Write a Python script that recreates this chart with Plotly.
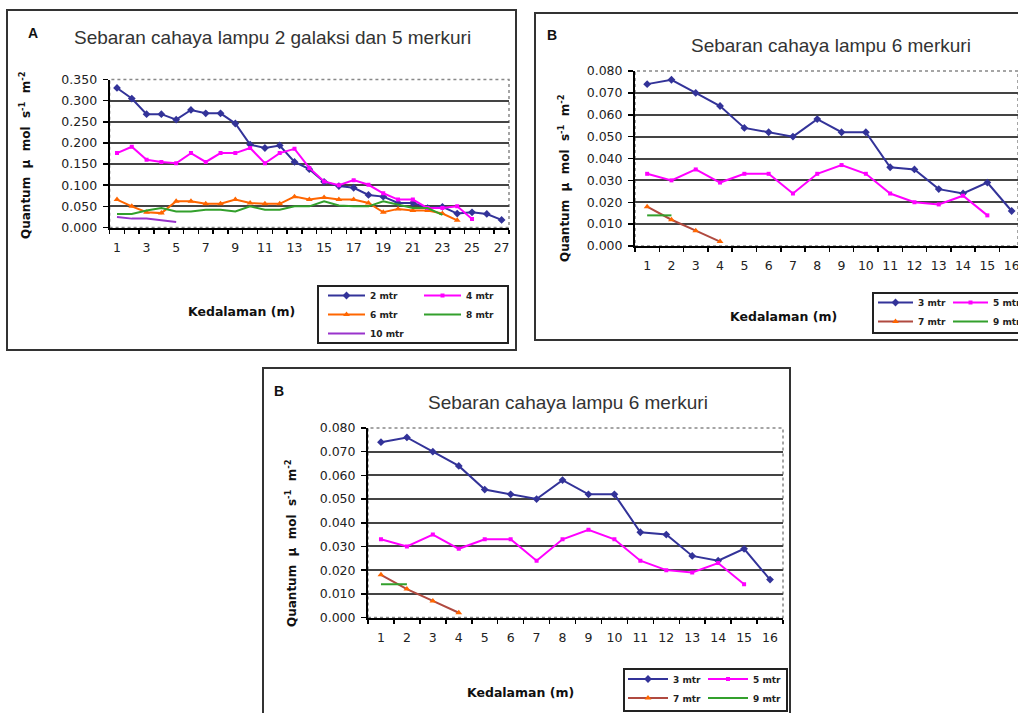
import plotly.graph_objects as go

# ---------------- data ----------------
depth_A = [1, 2, 3, 4, 5, 6, 7, 8, 9, 10, 11, 12, 13, 14, 15, 16, 17, 18, 19, 20,
           21, 22, 23, 24, 25, 26, 27]
a_2m = [0.330, 0.305, 0.268, 0.268, 0.255, 0.278, 0.270, 0.270, 0.246, 0.196, 0.188,
        0.194, 0.155, 0.138, 0.108, 0.098, 0.094, 0.077, 0.073, 0.058, 0.058, 0.046,
        0.049, 0.033, 0.036, 0.032, 0.018]
a_4m = [0.176, 0.191, 0.160, 0.155, 0.152, 0.176, 0.155, 0.176, 0.176, 0.188, 0.152,
        0.176, 0.186, 0.141, 0.109, 0.100, 0.112, 0.101, 0.081, 0.066, 0.066, 0.046,
        0.046, 0.050, 0.020]
a_6m = [0.066, 0.050, 0.036, 0.034, 0.062, 0.062, 0.056, 0.056, 0.066, 0.058, 0.056,
        0.056, 0.073, 0.066, 0.071, 0.066, 0.066, 0.058, 0.036, 0.044, 0.040, 0.040,
        0.033, 0.017]
a_8m = [0.032, 0.032, 0.040, 0.046, 0.038, 0.038, 0.042, 0.042, 0.038, 0.050, 0.042,
        0.042, 0.050, 0.050, 0.062, 0.052, 0.050, 0.050, 0.062, 0.054, 0.046, 0.046,
        0.030]
a_10m = [0.025, 0.021, 0.021, 0.017, 0.013]
a_ticks = [1, 3, 5, 7, 9, 11, 13, 15, 17, 19, 21, 23, 25, 27]
a_yticks = [0.0, 0.05, 0.10, 0.15, 0.20, 0.25, 0.30, 0.35]

depth_B = [1, 2, 3, 4, 5, 6, 7, 8, 9, 10, 11, 12, 13, 14, 15, 16]
b_3m = [0.074, 0.076, 0.070, 0.064, 0.054, 0.052, 0.050, 0.058, 0.052, 0.052, 0.036,
        0.035, 0.026, 0.024, 0.029, 0.016]
b_5m = [0.033, 0.030, 0.035, 0.029, 0.033, 0.033, 0.024, 0.033, 0.037, 0.033, 0.024,
        0.020, 0.019, 0.023, 0.014]
b_7m = [0.018, 0.012, 0.007, 0.002]
b_9m = [0.014, 0.014]
b_yticks = [0.0, 0.01, 0.02, 0.03, 0.04, 0.05, 0.06, 0.07, 0.08]

title_A = "Sebaran cahaya lampu 2 galaksi dan 5 merkuri"
title_B = "Sebaran cahaya lampu 6 merkuri"
ytitle = "Quantum\u00a0\u00a0µ\u00a0\u00a0mol\u00a0\u00a0s<sup>-1</sup>\u00a0\u00a0m<sup>-2</sup>"
xtitle = "Kedalaman (m)"

# ---------------- layout helpers ----------------
W, H = 1018, 713
def px(x):
    return x / W
def py(y):
    return 1 - y / H

C_BLUE = "#333399"
C_PINK = "#FF00FF"
C_ORANGE = "#FF6600"
C_GREEN = "#33A02C"
C_PURPLE = "#9933CC"
C_BROWN = "#B04A40"

fig = go.Figure()

def add(x, y, name, color, xa, ya, leg, symbol=None, msize=5, mcolor=None):
    mode = "lines+markers" if symbol else "lines"
    fig.add_trace(go.Scatter(
        x=x[:len(y)], y=y, name=name, mode=mode, xaxis=xa, yaxis=ya, legend=leg,
        line=dict(color=color, width=2),
        marker=dict(symbol=symbol or "circle", size=msize, color=mcolor or color),
        hoverinfo="skip"))

# Panel A
add(depth_A, a_2m, "2 mtr", C_BLUE, "x", "y", "legend", "diamond", 6)
add(depth_A, a_6m, "6 mtr", C_ORANGE, "x", "y", "legend", "triangle-up", 6)
add(depth_A, a_10m, "10 mtr", C_PURPLE, "x", "y", "legend")
add(depth_A, a_4m, "4 mtr", C_PINK, "x", "y", "legend2", "square", 4)
add(depth_A, a_8m, "8 mtr", C_GREEN, "x", "y", "legend2")
# Panel B top-right
add(depth_B, b_3m, "3 mtr", C_BLUE, "x2", "y2", "legend3", "diamond", 6)
add(depth_B, b_7m, "7 mtr", C_BROWN, "x2", "y2", "legend3", "triangle-up", 6, C_ORANGE)
add(depth_B, b_5m, "5 mtr", C_PINK, "x2", "y2", "legend4", "square", 4)
add(depth_B, b_9m, "9 mtr", C_GREEN, "x2", "y2", "legend4")
# Panel B bottom
add(depth_B, b_3m, "3 mtr", C_BLUE, "x3", "y3", "legend5", "diamond", 6)
add(depth_B, b_7m, "7 mtr", C_BROWN, "x3", "y3", "legend5", "triangle-up", 6, C_ORANGE)
add(depth_B, b_5m, "5 mtr", C_PINK, "x3", "y3", "legend6", "square", 4)
add(depth_B, b_9m, "9 mtr", C_GREEN, "x3", "y3", "legend6")

tickfont = dict(family="DejaVu Sans", size=12.5, color="#222222")

def xaxis(domain, rng, ticks, anchor):
    return dict(domain=domain, range=rng, anchor=anchor, tickmode="array",
                tickvals=ticks, ticktext=[str(t) for t in ticks],
                ticks="outside", ticklen=5, tickcolor="rgba(0,0,0,0)",
                minor=dict(ticks="outside", ticklen=4, tickwidth=1.5, tickcolor="black",
                           tick0=0.5, dtick=1, showgrid=False),
                showgrid=False, zeroline=False, showline=True, linecolor="black",
                linewidth=2, tickfont=tickfont, ticklabelstandoff=2,
                ticklabeloverflow="allow", fixedrange=True)

def yaxis(domain, rng, ticks, anchor):
    return dict(domain=domain, range=rng, anchor=anchor, tickmode="array",
                tickvals=ticks, tickformat=".3f", ticks="outside", ticklen=5,
                tickwidth=1.5, tickcolor="black", showgrid=True, gridcolor="#444444",
                gridwidth=2, zeroline=False, showline=True, linecolor="black",
                linewidth=2, tickfont=tickfont, ticklabelstandoff=3, fixedrange=True)

legfont = dict(family="DejaVu Sans", size=9, color="#222222", weight="bold")

def legend(x, ytop, iw):
    return dict(x=px(x), y=py(ytop), xanchor="left", yanchor="top", orientation="v",
                bgcolor="rgba(0,0,0,0)", borderwidth=0, font=legfont, itemwidth=iw,
                tracegroupgap=0, itemclick=False, itemdoubleclick=False)

# plot area edges (pixels)
A_l, A_r, A_t, A_b = 109.6, 509, 79.5, 227.5
T_l, T_t, T_b = 635, 71, 246
B_l, B_r, B_t, B_b = 368, 783, 428, 617.5

fig.update_layout(
    width=W, height=H, margin=dict(l=0, r=0, t=0, b=0, autoexpand=False),
    paper_bgcolor="white", plot_bgcolor="white", showlegend=True,
    xaxis=xaxis([px(A_l), px(A_r)], [0.5, 27.5], a_ticks, "y"),
    yaxis=yaxis([py(A_b), py(A_t)], [0, 0.35], a_yticks, "x"),
    xaxis2=xaxis([px(T_l), 1.0], [0.5, 0.5 + (1018 - T_l) / 24.3], depth_B, "y2"),
    yaxis2=yaxis([py(T_b), py(T_t)], [0, 0.08], b_yticks, "x2"),
    xaxis3=xaxis([px(B_l), px(B_r)], [0.5, 16.5], depth_B, "y3"),
    yaxis3=yaxis([py(B_b), py(B_t)], [0, 0.08], b_yticks, "x3"),
    legend=legend(323, 281, 37),
    legend2=legend(419, 281, 37),
    legend3=legend(873, 288, 35),
    legend4=legend(948, 288, 35),
    legend5=legend(623, 664.5, 40),
    legend6=legend(703, 664.5, 40),
)

shapes = []
# panel frames
for (x0, y0, x1, y1) in [(7, 10, 516, 350), (535, 13, 1030, 340), (263, 368, 790, 725)]:
    shapes.append(dict(type="rect", xref="paper", yref="paper", x0=px(x0), x1=px(x1),
                       y0=py(y1), y1=py(y0), line=dict(color="#333333", width=2),
                       fillcolor="rgba(0,0,0,0)", layer="below"))
# plot-area dotted borders
for ax in ["x", "x2", "x3"]:
    ya = ax.replace("x", "y")
    shapes.append(dict(type="rect", xref=ax + " domain", yref=ya + " domain",
                       x0=0, x1=1, y0=0, y1=1,
                       line=dict(color="#888888", width=1.5, dash="dot"), layer="below"))
# legend boxes
for (x0, y0, x1, y1) in [(318, 286, 508, 343), (873, 293, 1030, 333), (624, 669, 787, 711)]:
    shapes.append(dict(type="rect", xref="paper", yref="paper", x0=px(x0), x1=px(x1),
                       y0=py(y1), y1=py(y0), line=dict(color="#222222", width=2),
                       fillcolor="white", layer="below"))
fig.update_layout(shapes=shapes)

titlefont = dict(family="Liberation Sans", size=19, color="#333333")
letterfont = dict(family="Liberation Sans", size=14, color="#111111", weight="bold")
axfont = dict(family="DejaVu Sans", size=12.5, color="#111111", weight="bold")
yfont = dict(family="DejaVu Sans", size=12, color="#111111", weight="bold")

ann = []
def note(text, x, y, font, angle=0):
    ann.append(dict(text=text, x=px(x), y=py(y), xref="paper", yref="paper",
                    showarrow=False, xanchor="center", yanchor="middle", font=font,
                    textangle=angle))

note(title_A, 272, 38, titlefont)
note("A", 33, 33, letterfont)
note(ytitle, 25, 155, yfont, -90)
note(xtitle, 241, 311, axfont)

note(title_B, 831, 45, titlefont)
note("B", 552, 35, letterfont)
note(ytitle, 564, 178, yfont, -90)
note(xtitle, 783, 316, axfont)

note(title_B, 568, 402, titlefont)
note("B", 279, 391, letterfont)
note(ytitle, 291, 543, yfont, -90)
note(xtitle, 520, 692, axfont)

fig.update_layout(annotations=ann)

fig.write_html("out.html", config={"displayModeBar": False, "staticPlot": True},
               post_script="document.body.style.margin='0';document.body.style.overflow='hidden';")
